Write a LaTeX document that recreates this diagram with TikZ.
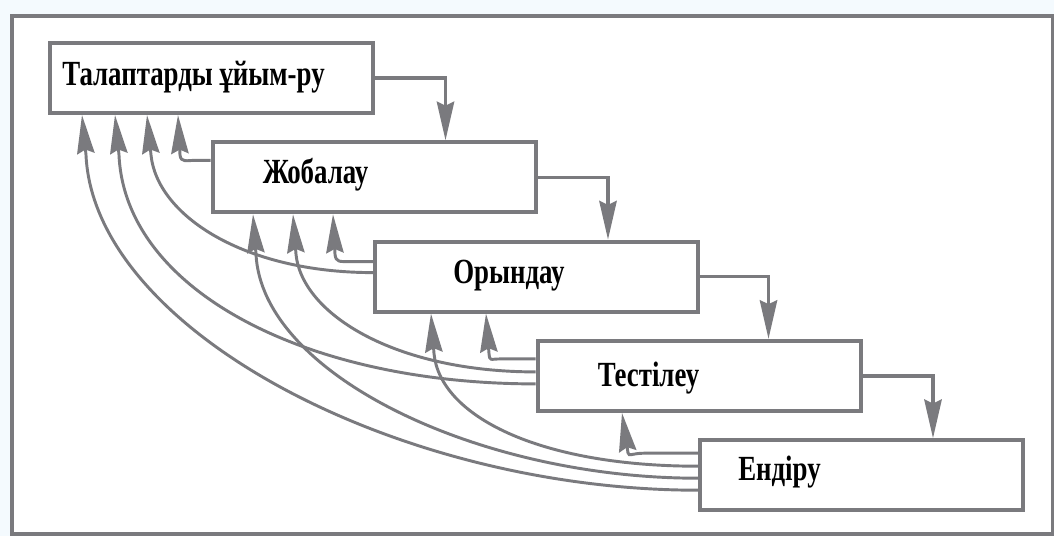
\documentclass[tikz,border=0pt]{standalone}
\usepackage{fontspec}
\usepackage{graphicx}
\setmainfont{Liberation Serif}
\usetikzlibrary{arrows.meta,calc}

\definecolor{linegray}{RGB}{122,122,126}
\definecolor{paleblue}{RGB}{244,250,254}

% condensed bold lettering for the stage names
\newcommand{\narrowtext}[1]{\scalebox{0.76}[1]{#1}}

\begin{document}
\begin{tikzpicture}[x=0.75pt,y=-0.75pt,
  stagebox/.style={draw=linegray, line width=3pt, fill=white,
    minimum width=242.25pt, minimum height=52.5pt, inner sep=0pt,
    anchor=north west},
  stagelabel/.style={inner sep=0pt, anchor=base west,
    font=\fontsize{26.5}{30}\selectfont\bfseries},
  head/.style={-{Stealth[length=29pt,width=13pt,inset=3pt]}},
  fwd/.style={head, draw=linegray, line width=2.6pt},
  fb/.style={head, draw=linegray, line width=2.2pt}]

\useasboundingbox (0,0) rectangle (1054,536);
\fill[paleblue] (0,0) rectangle (1054,536);
\draw[linegray, line width=3pt, fill=white] (12,16) rectangle (1053,534);

% the five stages
\node[stagebox] (b1) at (48,41) {};
\node[stagebox] (b2) at (210.5,140.3) {};
\node[stagebox] (b3) at (373,239.6) {};
\node[stagebox] (b4) at (535.5,338.9) {};
\node[stagebox] (b5) at (698,438.2) {};

\node[stagelabel] (l1) at ($(b1.north west)+(14,44)$) {\narrowtext{Талаптарды ұйым-ру}};
\node[stagelabel] (l2) at ($(b2.north west)+(52,43)$) {\narrowtext{Жобалау}};
\node[stagelabel] (l3) at ($(b3.north west)+(80,44)$) {\narrowtext{Орындау}};
\node[stagelabel] (l4) at ($(b4.north west)+(62,48)$) {\narrowtext{Тестілеу}};
\node[stagelabel] (l5) at ($(b5.north west)+(40,42)$) {\narrowtext{Ендіру}};

% forward flow between consecutive stages
\draw[fwd] (b1.east) -| ($(b2.north west)+(235,0)$);
\draw[fwd] (b2.east) -| ($(b3.north west)+(235,0)$);
\draw[fwd] (b3.east) -| ($(b4.north west)+(233,0)$);
\draw[fwd] (b4.east) -| ($(b5.north west)+(235,0)$);

% arrow tips on the bottom edges
\coordinate (t11) at ($(b1.south west)+(34,0)$);
\coordinate (t12) at ($(b1.south west)+(67,0)$);
\coordinate (t13) at ($(b1.south west)+(99,0)$);
\coordinate (t14) at ($(b1.south west)+(130,0)$);
\coordinate (t21) at ($(b2.south west)+(42.5,0)$);
\coordinate (t22) at ($(b2.south west)+(82.5,0)$);
\coordinate (t23) at ($(b2.south west)+(122.5,0)$);
\coordinate (t31) at ($(b3.south west)+(58,0)$);
\coordinate (t32) at ($(b3.south west)+(113,0)$);
\coordinate (t41) at ($(b4.south west)+(86.5,0)$);

% starting points on the left edges
\coordinate (s21) at ($(b2.north west)+(0,20)$);
\coordinate (s32) at ($(b3.north west)+(0,22)$);
\coordinate (s31) at ($(b3.north west)+(0,33)$);
\coordinate (s43) at ($(b4.north west)+(0,20)$);
\coordinate (s42) at ($(b4.north west)+(0,33)$);
\coordinate (s41) at ($(b4.north west)+(0,45)$);
\coordinate (s54) at ($(b5.north west)+(0,15)$);
\coordinate (s53) at ($(b5.north west)+(0,28)$);
\coordinate (s52) at ($(b5.north west)+(0,40)$);
\coordinate (s51) at ($(b5.north west)+(0,52)$);

% feedback to the previous stage
\draw[fb] (s21) -- ++(-14,0) .. controls +(-10,0) and +(1,8) .. ($(t14)+(2,40)$) -- (t14);
\draw[fb] (s32) -- ++(-22,0) .. controls +(-12,0) and +(1,8) .. ($(t23)+(2,40)$) -- (t23);
\draw[fb] (s43) -- ++(-34,0) .. controls +(-12,0) and +(1,8) .. ($(t32)+(3,40)$) -- (t32);
\draw[fb] (s54) -- ++(-54,0) .. controls +(-12,0) and +(1,4) .. ($(t41)+(6,40)$) -- (t41);

% feedback to earlier stages
\draw[fb] (s31) .. controls +(-130,0) and +(6,60) .. ($(t13)+(4,40)$) -- (t13);
\draw[fb] (s42) .. controls +(-140,0) and +(6,60) .. ($(t22)+(3,40)$) -- (t22);
\draw[fb] (s41) .. controls +(-230,0) and +(6,135) .. ($(t12)+(4,40)$) -- (t12);
\draw[fb] (s53) .. controls +(-160,0) and +(6,62) .. ($(t31)+(3,40)$) -- (t31);
\draw[fb] (s52) .. controls +(-220,0) and +(6,120) .. ($(t21)+(3,40)$) -- (t21);
\draw[fb] (s51) .. controls +(-300,0) and +(8,175) .. ($(t11)+(4,40)$) -- (t11);
\end{tikzpicture}
\end{document}
